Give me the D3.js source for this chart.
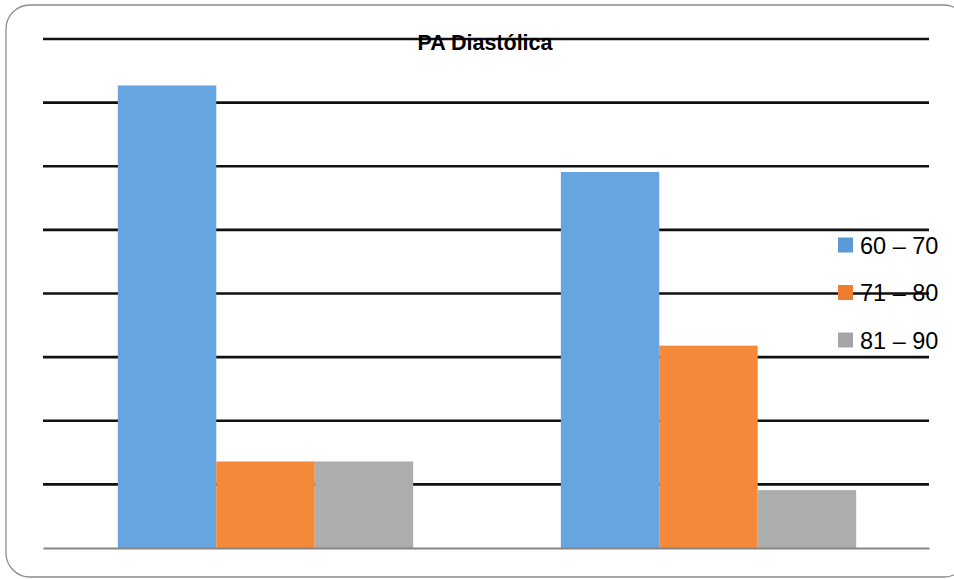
<!DOCTYPE html>
<html>
<head>
<meta charset="utf-8">
<script src="https://cdn.jsdelivr.net/npm/d3@7"></script>
<style>
  html, body { margin: 0; padding: 0; background: #fff; }
  svg { display: block; }
</style>
</head>
<body>
<div id="chart"></div>
<script>
// Chart data (percent per group)
const categories = ['Grupo 1', 'Grupo 2'];
const seriesNames = ['60 – 70', '71 – 80', '81 – 90'];
const seriesValues = [
    [72.7, 59.1],   // 60 – 70
    [13.6, 31.8],   // 71 – 80
    [13.6, 9.1]     // 81 – 90
];
const seriesColors = ['#67a5e0', '#f5893a', '#adadad'];
const legendColors = ['#5b9bd5', '#ed7d31', '#a5a5a5'];
const yTicks = [0, 10, 20, 30, 40, 50, 60, 70, 80];
const title = 'PA Diastólica';

const width = 954, height = 579;
const margin = { top: 39, right: 25, bottom: 31, left: 43 };
const plotW = 929 - margin.left;
const plotH = 548 - margin.top;

const svg = d3.select('#chart').append('svg')
    .attr('width', width)
    .attr('height', height);

// Outer rounded frame
svg.append('rect')
    .attr('x', 6)
    .attr('y', 5)
    .attr('width', 962)
    .attr('height', 572)
    .attr('rx', 24)
    .attr('fill', 'none')
    .attr('stroke', '#8c8c8c')
    .attr('stroke-width', 1.3);

const g = svg.append('g')
    .attr('transform', `translate(${margin.left},${margin.top})`);

const x0 = d3.scaleBand()
    .domain(categories)
    .range([0, plotW])
    .paddingInner(0)
    .paddingOuter(0);

// 150% gap width, Excel style
const barW = x0.bandwidth() / (seriesNames.length + 1.5);
const x1 = d3.scaleBand()
    .domain(seriesNames)
    .range([0, barW * seriesNames.length]);

const y = d3.scaleLinear()
    .domain([0, 80])
    .range([plotH, 0]);

// Gridlines
g.append('g')
    .selectAll('line')
    .data(yTicks.filter(d => d > 0))
    .join('line')
    .attr('x1', 0)
    .attr('x2', plotW)
    .attr('y1', d => y(d))
    .attr('y2', d => y(d))
    .attr('stroke', '#111')
    .attr('stroke-width', 2.6);

// Bars
const groups = g.append('g')
    .selectAll('g')
    .data(categories)
    .join('g')
    .attr('transform', c => `translate(${x0(c) + 1 + (x0.bandwidth() - barW * seriesNames.length) / 2},0)`);

groups.selectAll('rect')
    .data((c, ci) => seriesNames.map((s, si) => ({ s, si, v: seriesValues[si][ci] })))
    .join('rect')
    .attr('x', d => x1(d.s))
    .attr('y', d => y(d.v))
    .attr('width', x1.bandwidth())
    .attr('height', d => y(0) - y(d.v))
    .attr('fill', d => seriesColors[d.si]);

// Baseline axis
const xAxis = d3.axisBottom(x0).tickSize(0).tickFormat('');
g.append('g')
    .attr('transform', `translate(0,${plotH})`)
    .call(xAxis)
    .call(a => a.select('.domain').attr('stroke', '#868686').attr('stroke-width', 2.2));

// Title
svg.append('text')
    .attr('x', 485)
    .attr('y', 50)
    .attr('text-anchor', 'middle')
    .attr('font-family', 'Liberation Sans, Arial, sans-serif')
    .attr('font-weight', 'bold')
    .attr('font-size', 21.5)
    .attr('fill', '#000')
    .text(title);

// Legend
const legend = svg.append('g')
    .attr('transform', 'translate(838,245)');

const items = legend.selectAll('g')
    .data(seriesNames)
    .join('g')
    .attr('transform', (d, i) => `translate(0,${i * 47.5})`);

items.append('rect')
    .attr('x', 0)
    .attr('y', -7.5)
    .attr('width', 15)
    .attr('height', 15)
    .attr('fill', (d, i) => legendColors[i]);

items.append('text')
    .attr('x', 22)
    .attr('y', 8.5)
    .attr('font-family', 'Liberation Sans, Arial, sans-serif')
    .attr('font-size', 23.5)
    .attr('fill', '#000')
    .text(d => d);
</script>
</body>
</html>
